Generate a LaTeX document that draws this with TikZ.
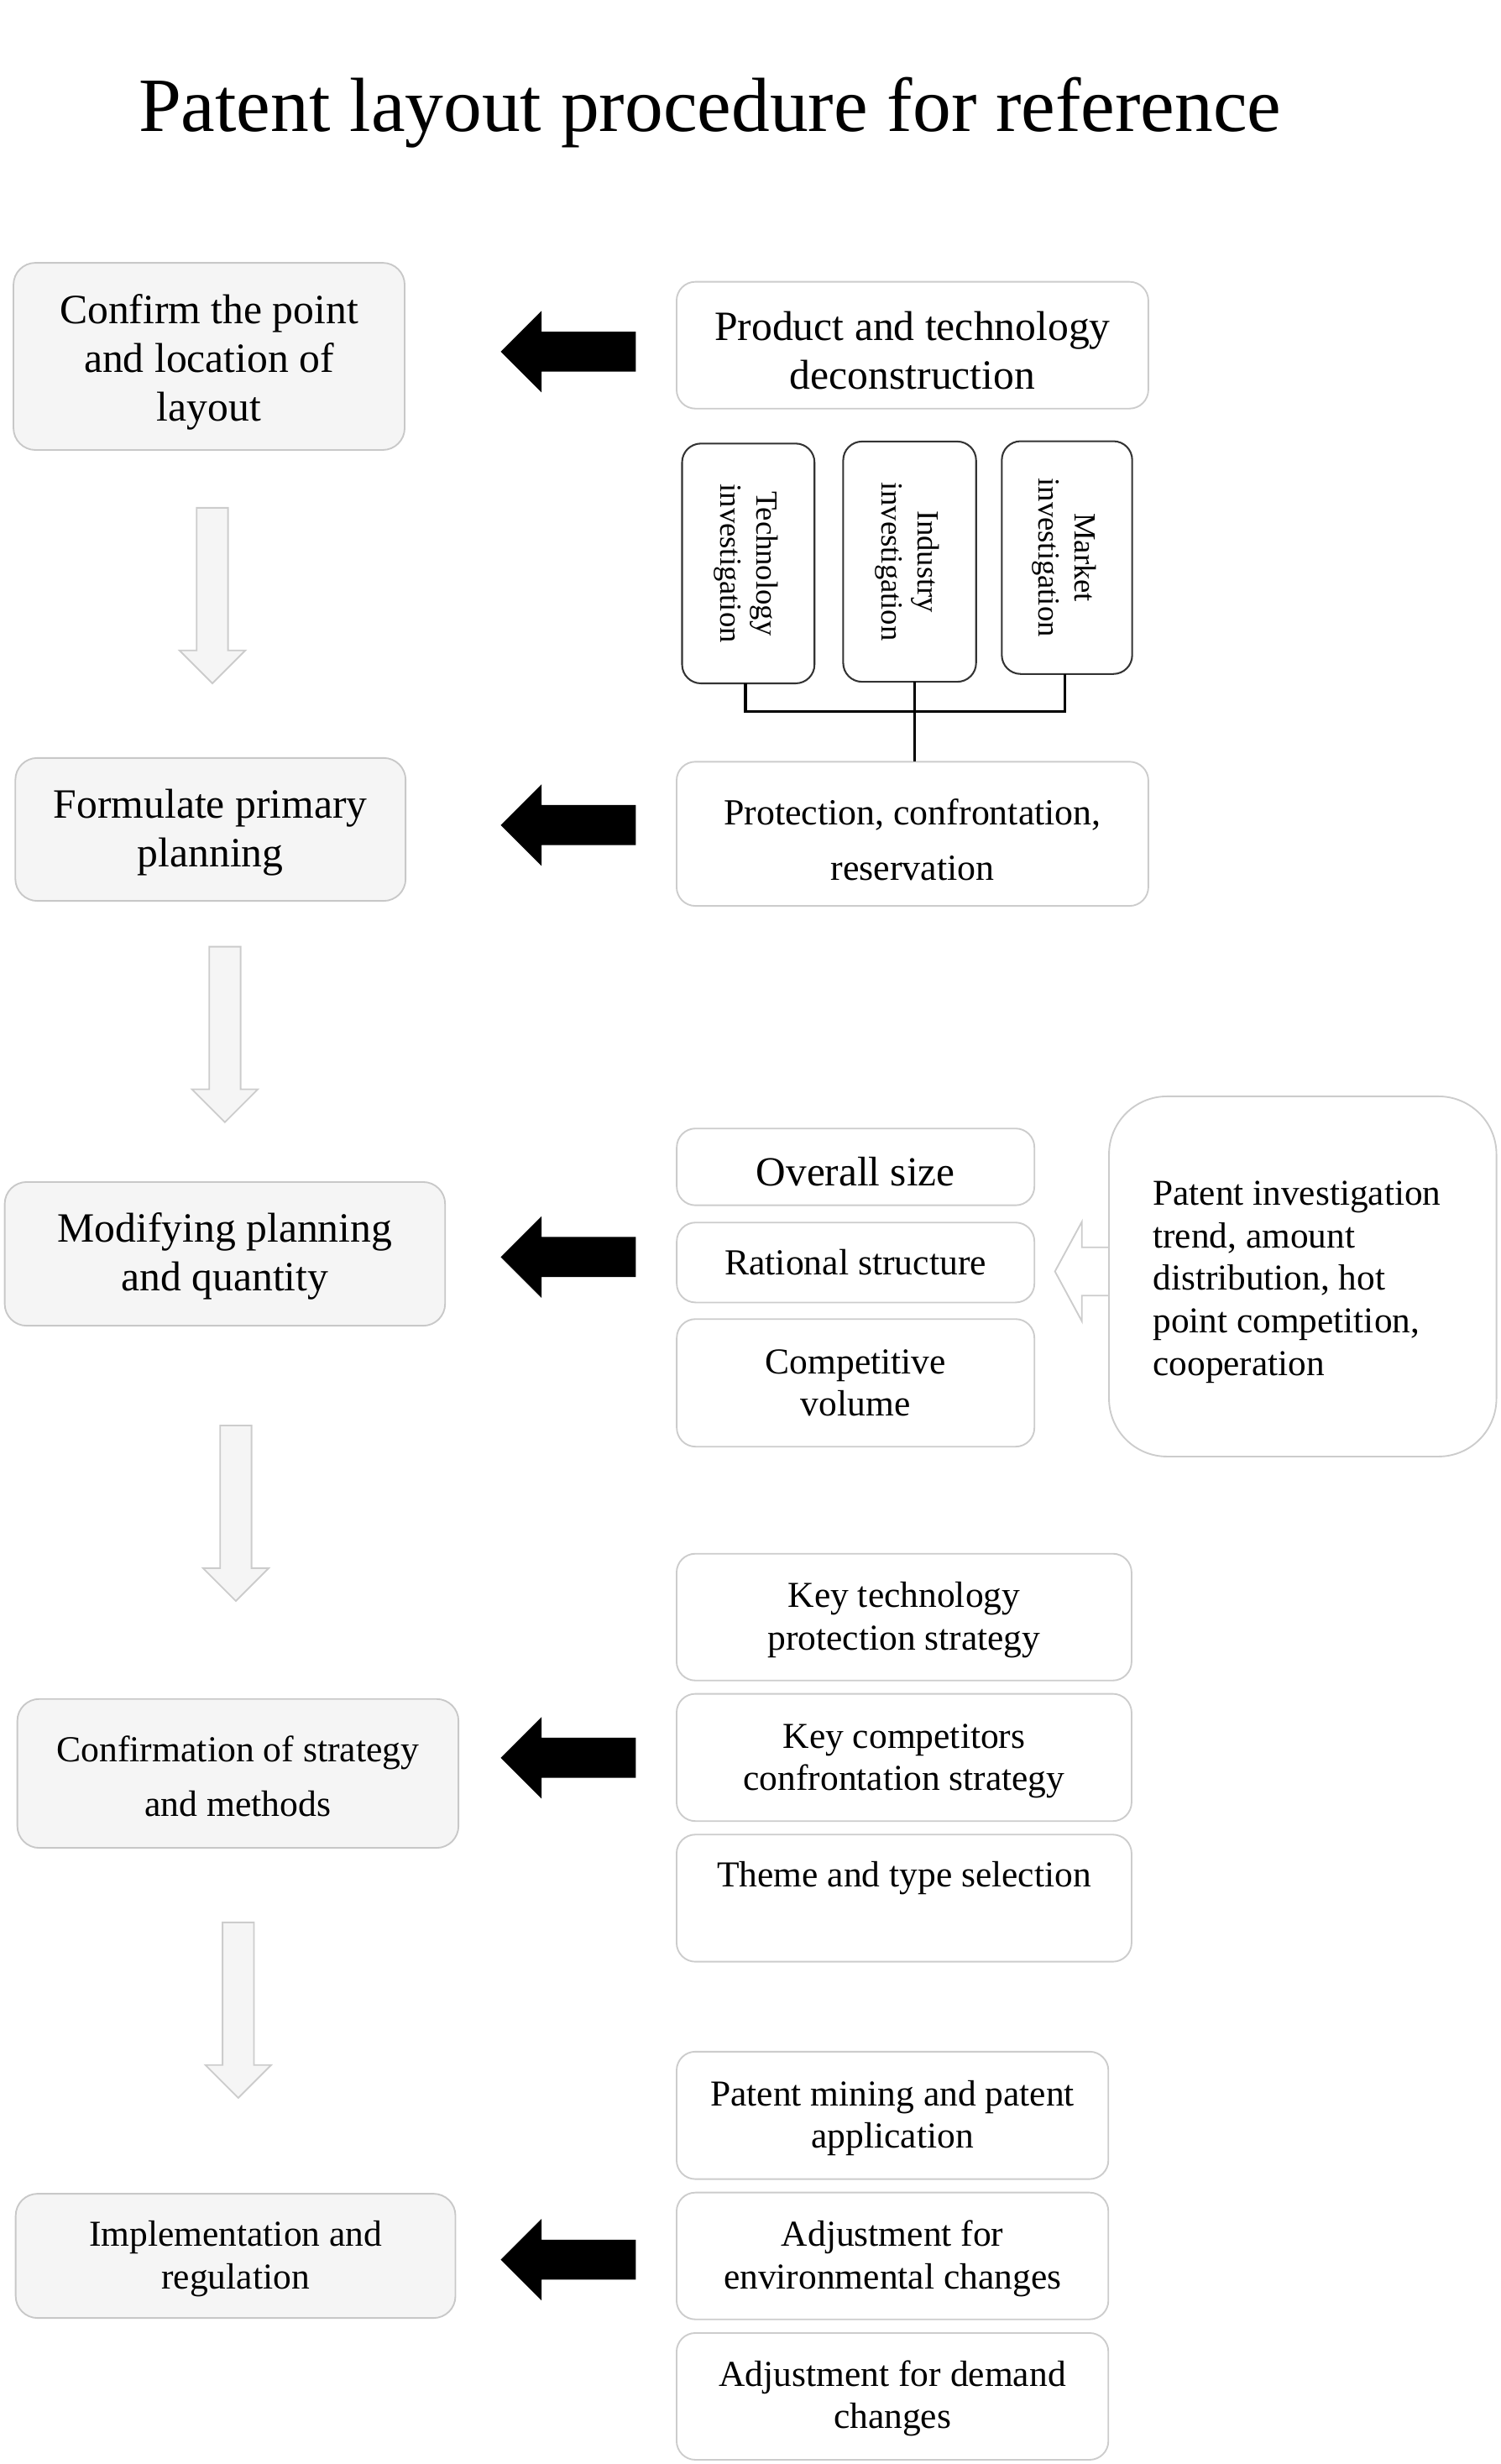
\documentclass[tikz,border=0pt]{standalone}
\usepackage{fontspec}
\setmainfont{Liberation Serif}
\definecolor{lgfill}{HTML}{F5F5F5}
\definecolor{lgborder}{HTML}{C8C8C8}
\definecolor{rborder}{HTML}{CCCCCC}
\definecolor{vborder}{HTML}{333333}
\newcommand{\firstup}[1]{\rule{0pt}{\dimexpr0.72em+#1\relax}}
\tikzset{
  blackarrow/.pic={\fill[black] (0,0) -- (26,-26) -- (26,-12.75) -- (86.2,-12.75) -- (86.2,12.75) -- (26,12.75) -- (26,26) -- cycle;},
  grayarrow/.pic={\filldraw[fill=lgfill, draw=rborder, line width=0.5pt] (-10,0) -- (10,0) -- (10,91) -- (21,91) -- (0,112) -- (-21,91) -- (-10,91) -- cycle;}
}
\begin{document}
\begin{tikzpicture}[x=0.5pt,y=-0.5pt,
  every node/.style={outer sep=0pt, inner sep=0pt, text=black},
  lbox/.style={draw=lgborder, fill=lgfill, line width=0.5pt, rounded corners=7pt},
  rbox/.style={draw=rborder, fill=white, line width=0.5pt, rounded corners=6pt},
  vbox/.style={draw=vborder, fill=white, line width=0.55pt, rounded corners=6pt},
  bigbox/.style={draw=rborder, fill=white, line width=0.5pt, rounded corners=18.5pt},
  lowertext/.style={execute at begin node={\rule{0pt}{\dimexpr0.72em+#1\relax}}},
  txtA/.style={align=center, font=\fontsize{13.3pt}{15.5pt}\selectfont},
  txtB/.style={align=center, font=\fontsize{11.65pt}{13.5pt}\selectfont},
  txtC/.style={align=center, font=\fontsize{11.7pt}{17.5pt}\selectfont},
  vtxt/.style={align=center, font=\fontsize{9.8pt}{11.5pt}\selectfont},
  conn/.style={draw=black, line width=0.9pt}
]
\useasboundingbox (0,0) rectangle (957.2,1572.1);

% title
\node[font=\fontsize{24.5pt}{29pt}\selectfont, anchor=base] (title) at (453,84) {Patent layout procedure for reference};

% left column
\node[lbox, txtA, minimum width=124.8pt, minimum height=59.7pt] (conf) at (133.4,227.4) {\firstup{3.6pt}Confirm the point\\and location of\\layout};
\node[lbox, txtA, minimum width=124.5pt, minimum height=45.6pt] (form) at (134.3,529.2) {\firstup{1.6pt}Formulate primary\\planning};
\node[lbox, txtA, minimum width=140.5pt, minimum height=45.85pt] (modi) at (143.5,800) {\firstup{1.2pt}Modifying planning\\and quantity};
\node[lbox, txtC, minimum width=140.75pt, minimum height=47.5pt] (cstrat) at (151.8,1131.5) {\firstup{1.6pt}Confirmation of strategy\\and methods};
\node[lbox, txtB, minimum width=140.3pt, minimum height=39.65pt] (impl) at (150.3,1439.3) {\firstup{1.6pt}Implementation and\\regulation};

% gray down arrows
\pic at (135.5,324) {grayarrow};
\pic at (143.5,604) {grayarrow};
\pic at (150.5,909.5) {grayarrow};
\pic at (152,1226.5) {grayarrow};

% black left arrows
\pic at (319.5,224.4) {blackarrow};
\pic at (319.5,526.4) {blackarrow};
\pic at (319.5,802) {blackarrow};
\pic at (319.5,1121.5) {blackarrow};
\pic at (319.5,1441.7) {blackarrow};

% row 1 / 2 right side
\node[rbox, txtA, minimum width=150.5pt, minimum height=40.45pt] (prod) at (582.2,220.25) {\firstup{3.1pt}Product and technology\\deconstruction};
\node[vbox, minimum width=42.25pt, minimum height=76.5pt] (tech) at (477.45,359.5) {};
\node[vbox, minimum width=42.4pt, minimum height=76.65pt] (ind) at (580.4,358.35) {};
\node[vbox, minimum width=41.6pt, minimum height=74.25pt] (mkt) at (680.8,355.75) {};
\node[vtxt, rotate=-90] (techtxt) at ([xshift=-0.8pt]tech.center) {Technology\\investigation};
\node[vtxt, rotate=-90] (indtxt) at ([xshift=-0.8pt]ind.center) {Industry\\investigation};
\node[vtxt, rotate=-90] (mkttxt) at ([xshift=-1pt]mkt.center) {Market\\investigation};
\node[rbox, align=center, font=\fontsize{11.75pt}{17.5pt}\selectfont, minimum width=150.5pt, minimum height=46pt] (prot) at (582.2,532) {\firstup{3.6pt}Protection, confrontation,\\reservation};
\coordinate (bus) at (0,454);
\draw[conn] ([xshift=-0.9pt]tech.south) -- ([xshift=-0.9pt]tech.south |- bus) -- ([xshift=-0.75pt]mkt.south |- bus) -- ([xshift=-0.75pt]mkt.south);
\draw[conn] ([xshift=1.5pt]ind.south) -- ([xshift=1.5pt]ind.south |- prot.north);

% row 3 right side
\node[rbox, font=\fontsize{13.2pt}{15.5pt}\selectfont, lowertext=2.5pt, minimum width=114.1pt, minimum height=24.5pt] (size) at (545.9,744.5) {Overall size};
\node[rbox, font=\fontsize{11.7pt}{13.5pt}\selectfont, minimum width=114.1pt, minimum height=25.5pt] (rat) at (545.9,805.5) {Rational structure};
\node[rbox, txtB, minimum width=114.1pt, minimum height=40.7pt] (comp) at (545.9,882.3) {Competitive\\volume};
\filldraw[fill=white, draw=rborder, line width=0.5pt] (673.1,811.2) -- (690.3,779.5) -- (690.3,795.8) -- (712,795.8) -- (712,826.6) -- (690.3,826.6) -- (690.3,843) -- cycle;
\node[bigbox, minimum width=123.6pt, minimum height=114.9pt] (pinv) at (831.2,814.4) {};
\node[anchor=west, align=left, font=\fontsize{11.6pt}{13.6pt}\selectfont] (pinvtxt) at (735.7,818) {Patent investigation\\trend, amount\\distribution, hot\\point competition,\\cooperation};

% row 4 right side
\node[rbox, txtB, minimum width=145.15pt, minimum height=40.45pt] (ktech) at (576.85,1031.75) {\firstup{1.6pt}Key technology\\protection strategy};
\node[rbox, txtB, minimum width=145.15pt, minimum height=40.6pt] (kcomp) at (576.85,1121.3) {\firstup{1.6pt}Key competitors\\confrontation strategy};
\node[rbox, minimum width=145.15pt, minimum height=40.55pt] (theme) at (576.85,1211.05) {};
\node[align=center, font=\fontsize{11.65pt}{13.5pt}\selectfont, anchor=base] (themetxt) at ([yshift=-16.75pt]theme.north) {Theme and type selection};

% row 5 right side
\node[rbox, txtB, minimum width=137.75pt, minimum height=40.65pt] (mine) at (569.45,1349.65) {\firstup{1.6pt}Patent mining and patent\\application};
\node[rbox, txtB, minimum width=137.75pt, minimum height=40.45pt] (envc) at (569.45,1439.35) {\firstup{1.6pt}Adjustment for\\environmental changes};
\node[rbox, txtB, minimum width=137.75pt, minimum height=40.45pt] (demc) at (569.45,1528.95) {\firstup{1.2pt}Adjustment for demand\\changes};
\end{tikzpicture}
\end{document}
